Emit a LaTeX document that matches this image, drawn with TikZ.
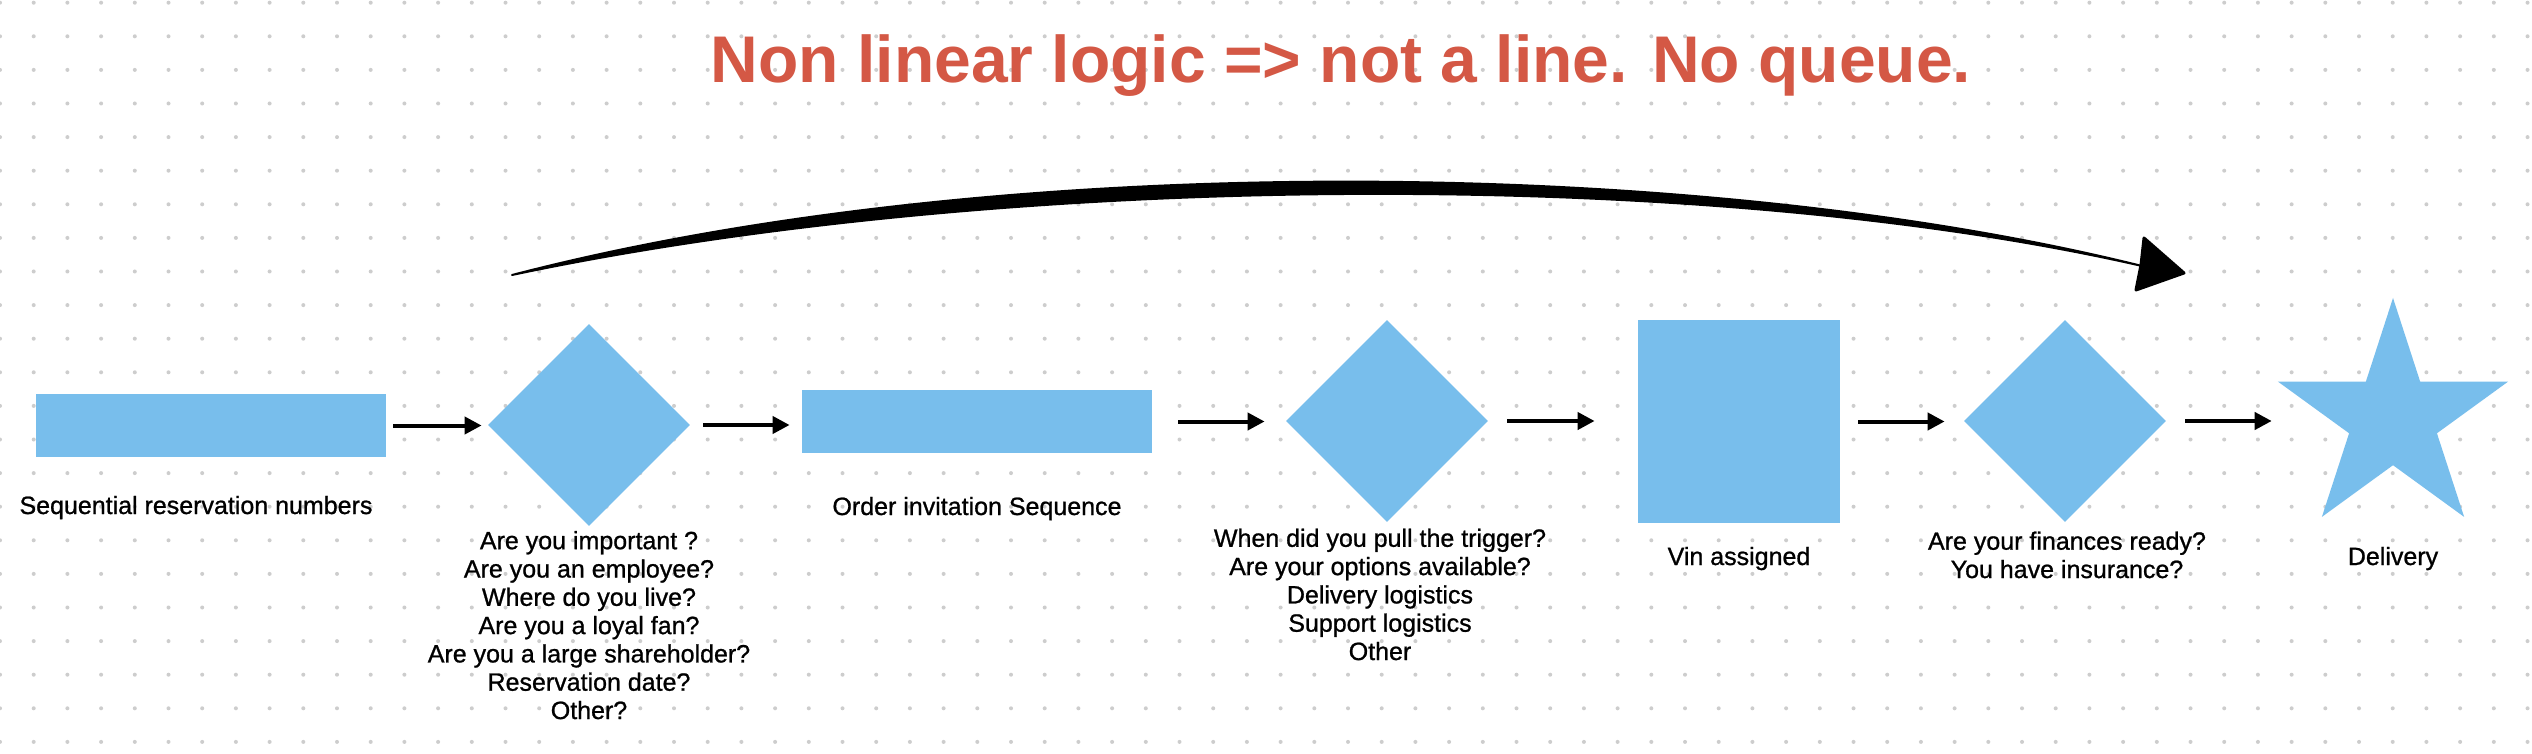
\documentclass[tikz,border=0pt]{standalone}
\usepackage{fontspec}
\setmainfont{Liberation Sans}
\newfontfamily\captionfont[FakeBold=0.9]{Liberation Sans}
\usetikzlibrary{arrows.meta,shapes.geometric}

\definecolor{shapeblue}{RGB}{120,190,236}
\definecolor{titlered}{RGB}{212,88,69}
\definecolor{dotgray}{RGB}{205,205,205}

\begin{document}
\begin{tikzpicture}[x=0.5pt,y=-0.5pt,
  box/.style={fill=shapeblue,inner sep=0pt,minimum width=175pt,minimum height=31.5pt},
  gate/.style={diamond,fill=shapeblue,inner sep=0pt,minimum width=101pt,minimum height=101pt},
  lbl/.style={align=center,inner sep=0pt,anchor=base,font=\captionfont\fontsize{12.5pt}{14.15pt}\selectfont},
  flow/.style={line width=2pt,-{Triangle[length=8.5pt,width=8.5pt]}}]
  \useasboundingbox (0,0) rectangle (2532,754);
  \fill[white] (0,0) rectangle (2532,754);
  % dotted canvas
  \foreach \i in {0,...,75}{
    \foreach \j in {0,...,22}{
      \fill[dotgray] (33.7*\i,2.7+33.6*\j) circle (2);
    }
  }
  % title
  \node[anchor=base,text=titlered,font=\fontsize{33pt}{36pt}\selectfont\bfseries] (title) at (1341,83) {Non linear logic => not a line. No queue.};
  % steps
  \node[box] (resv) at (211,425.5) {};
  \node[gate] (prio) at (589,425) {};
  \node[box] (invite) at (977,421.5) {};
  \node[gate] (trigger) at (1387,421) {};
  \node[fill=shapeblue,inner sep=0pt,minimum width=101pt,minimum height=101.5pt] (vin) at (1739,421.5) {};
  \node[gate] (finance) at (2065,421) {};
  \node[star,star points=5,star point ratio=2.62,fill=shapeblue,inner sep=0pt,minimum size=121pt] (delivery) at (2393,419) {};
  % captions (base = last line)
  \node[lbl] (resvtxt) at (196,514) {Sequential reservation numbers};
  \node[lbl] (priotxt) at (589,719) {Are you important ?\\Are you an employee?\\Where do you live?\\Are you a loyal fan?\\Are you a large shareholder?\\Reservation date?\\Other?};
  \node[lbl] (invitetxt) at (977,515) {Order invitation Sequence};
  \node[lbl] (triggertxt) at (1380,660) {When did you pull the trigger?\\Are your options available?\\Delivery logistics\\Support logistics\\Other};
  \node[lbl] (vintxt) at (1739,565) {Vin assigned};
  \node[lbl] (financetxt) at (2067,578) {Are your finances ready?\\You have insurance?};
  \node[lbl] (deliverytxt) at (2393,565) {Delivery};
  % arrows
  \draw[flow,shorten <=3.5pt,shorten >=3pt] (resv.east) -- (resv.east -| prio.west);
  \draw[flow,shorten <=6.5pt,shorten >=6pt] (prio.east) -- (prio.east -| invite.west);
  \draw[flow,shorten <=13pt,shorten >=10.5pt] (invite.east) -- (invite.east -| trigger.west);
  \draw[flow,shorten <=9.5pt,shorten >=21.5pt] (trigger.east) -- (trigger.east -| vin.west);
  \draw[flow,shorten <=9pt,shorten >=9.5pt] (vin.east) -- (vin.east -| finance.west);
  \draw[flow,shorten <=9.5pt,shorten >=2.5pt] (finance.east) -- (finance.east -| delivery.outer point 2);
  % big bow over the steps
  \coordinate (bowstart) at (512,275);
  \coordinate (bowend) at (2142,266);
  \filldraw[line width=1pt,line join=round] (bowstart) .. controls (1000,148) and (1700,156) .. (bowend)
    .. controls (1700,165) and (1000,172) .. (bowstart) -- cycle;
  \filldraw[line width=1.5pt,line join=round] (2144,238) -- (2184,273) -- (2136,290) -- (2141,265) -- cycle;
\end{tikzpicture}
\end{document}
